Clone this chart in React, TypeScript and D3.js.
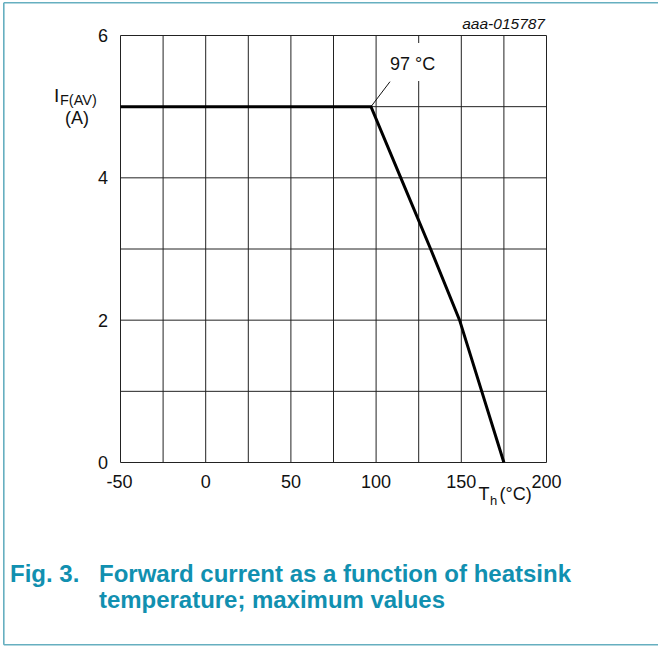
import React from "react";
import * as d3 from "d3";

const temps = [-50, 97, 114.5, 132, 149, 162, 175];
const currents = [5, 5, 4, 3, 2, 1, 0];
const xTicks = [-50, 0, 50, 100, 150, 200];
const yTicks = [0, 2, 4, 6];
const xGrid = d3.range(-50, 201, 25);
const yGrid = [0, 1, 2, 3, 4, 5, 6];
const annotationTemp = 97;

const W = 658;
const H = 646;
const FONT = "'Liberation Sans', Arial, Helvetica, sans-serif";
const TEAL = "#1190b0";
const BORDER = "#66afc0";

export default function App() {
  const x = d3.scaleLinear().domain([-50, 200]).range([120.5, 546.5]);
  const y = d3.scaleLinear().domain([0, 6]).range([462.5, 35.5]);
  const data = temps.map((t, i) => [t, currents[i]] as [number, number]);
  const line = d3
    .line<[number, number]>()
    .x((d) => x(d[0]))
    .y((d) => y(d[1]));

  const kx = x(annotationTemp);
  const ky = y(5);

  return (
    <svg
      width={W}
      height={H}
      style={{ position: "absolute", left: 0, top: 0, background: "#fff" }}
      fontFamily={FONT}
    >
      <rect x={0} y={0} width={W} height={H} fill="#fff" />
      {/* frame */}
      <line x1={3.8} y1={2.8} x2={W} y2={2.8} stroke={BORDER} strokeWidth={1.6} />
      <line x1={3.8} y1={2.8} x2={3.8} y2={644.8} stroke={BORDER} strokeWidth={1.6} />
      <line x1={3.8} y1={644.8} x2={W} y2={644.8} stroke={BORDER} strokeWidth={1.6} />

      {/* grid */}
      {xGrid.map((v) => (
        <line
          key={"gx" + v}
          x1={x(v)}
          x2={x(v)}
          y1={y(0)}
          y2={y(6)}
          stroke="#222"
          strokeWidth={1}
        />
      ))}
      {yGrid.map((v) => (
        <line
          key={"gy" + v}
          x1={x(-50)}
          x2={x(200)}
          y1={y(v)}
          y2={y(v)}
          stroke="#222"
          strokeWidth={1}
        />
      ))}

      {/* annotation box */}
      <rect x={377} y={43} width={71} height={38} fill="#fff" />
      <line x1={kx} y1={ky} x2={kx + 19} y2={ky - 25} stroke="#111" strokeWidth={1} />
      <text x={390} y={70} fontSize={18} fill="#111">
        97 °C
      </text>

      {/* curve */}
      <path d={line(data) || ""} fill="none" stroke="#000" strokeWidth={3} strokeLinejoin="miter" />

      {/* y tick labels */}
      {yTicks.map((v) => (
        <text
          key={"yt" + v}
          x={108}
          y={y(v) + 6.5}
          fontSize={18}
          textAnchor="end"
          fill="#111"
        >
          {v}
        </text>
      ))}
      {/* x tick labels */}
      {xTicks.map((v) => (
        <text
          key={"xt" + v}
          x={x(v) - (v < 0 ? 1 : 0)}
          y={488}
          fontSize={18}
          textAnchor="middle"
          fill="#111"
        >
          {v}
        </text>
      ))}

      {/* axis titles */}
      <text x={54} y={101.5} fontSize={19} fill="#111">
        I
      </text>
      <text x={60} y={105} fontSize={14.5} fill="#111">
        F(AV)
      </text>
      <text x={77} y={124} fontSize={18} textAnchor="middle" fill="#111">
        (A)
      </text>
      <text x={478.5} y={500} fontSize={18} fill="#111">
        T
      </text>
      <text x={490} y={505} fontSize={13} fill="#111">
        h
      </text>
      <text x={499.5} y={500} fontSize={18} fill="#111">
        (°C)
      </text>

      <text
        x={545}
        y={29}
        fontSize={15.5}
        fontStyle="italic"
        textAnchor="end"
        fill="#111"
      >
        aaa-015787
      </text>

      {/* caption */}
      <text x={10} y={582} fontSize={24} fontWeight="bold" fill={TEAL}>
        Fig. 3.
      </text>
      <text
        x={99}
        y={582}
        fontSize={24}
        fontWeight="bold"
        fill={TEAL}
        textLength={472}
        lengthAdjust="spacingAndGlyphs"
      >
        Forward current as a function of heatsink
      </text>
      <text
        x={99}
        y={608}
        fontSize={24}
        fontWeight="bold"
        fill={TEAL}
        textLength={346}
        lengthAdjust="spacingAndGlyphs"
      >
        temperature; maximum values
      </text>
    </svg>
  );
}
